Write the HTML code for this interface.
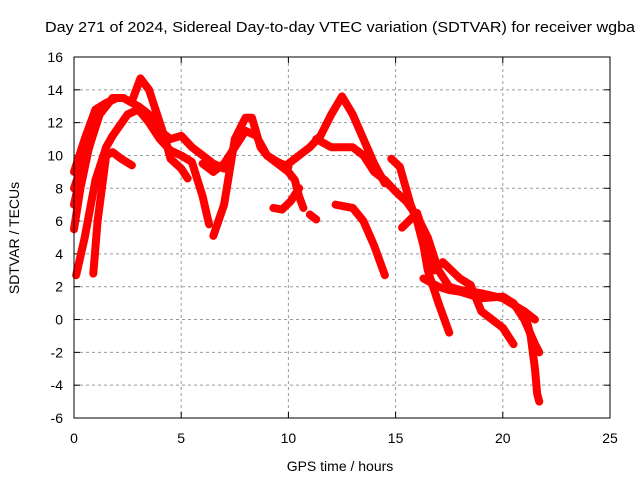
<!DOCTYPE html>
<html><head><meta charset="utf-8"><style>
body{margin:0;background:#fff}
svg{display:block;font-family:"Liberation Sans",sans-serif}
</style></head><body>
<svg id="chart" width="640" height="480">
<rect width="640" height="480" fill="#fff"/>
<text x="45" y="32" font-size="15" textLength="590" lengthAdjust="spacingAndGlyphs">Day 271 of 2024, Sidereal Day-to-day VTEC variation (SDTVAR) for receiver wgba</text>
<text x="340" y="471" font-size="14" text-anchor="middle">GPS time / hours</text>
<text x="19" y="238" font-size="14" text-anchor="middle" transform="rotate(-90 19 238)">SDTVAR / TECUs</text>
<g id="grid"></g><g id="ticks"></g><g id="series"></g>
<rect x="74" y="57" width="536" height="361" fill="none" stroke="#000" stroke-width="1"/>
</svg>
<script>
const xTicks=[0,5,10,15,20,25];
const yTicks=[-6,-4,-2,0,2,4,6,8,10,12,14,16];
const arcA=[[0,5.5],[0.3,8],[0.7,10.5],[1.2,12.5],[1.8,13.5],[2.3,13.5],[3,13],[3.5,12.5],[4,11.5],[4.5,11],[5,11.2],[5.5,10.5],[6,10],[6.5,9.5],[7,9.2]];
const arcB=[[0.1,2.7],[0.5,5],[1,8.5],[1.5,10.5],[1.8,11.2],[2.5,12.5],[3,12.8],[3.5,12],[4,11],[4.5,10.3],[5,10],[5.5,9.6],[6,7.5],[6.3,5.8]];
const arcC=[[0.9,2.8],[1.1,6],[1.3,8],[1.5,10],[1.8,10.2],[2.2,9.8],[2.7,9.4]];
const arcD=[[2.7,13.3],[3.1,14.7],[3.5,14],[4,12],[4.3,10.8],[4.5,9.8],[5,9.2],[5.3,8.6]];
const arcE=[[0,9],[0.5,11],[1,12.8],[1.5,13.2],[2,13.5]];
const arcE2=[[0,8],[0.4,9.5],[0.8,11.5],[1.2,12.6]];
const arcE3=[[0,7],[0.3,8.8],[0.6,10],[1,11.8]];
const arcF=[[6.5,5.1],[7,7],[7.5,11],[8,12.3],[8.3,12.3],[8.7,10.5],[9,10],[9.5,9.6],[10,9.3]];
const arcG=[[6,9.5],[6.5,9],[7,9.5],[7.5,10.5],[8,11.5],[8.5,11.2],[9,10],[9.5,9.5],[10,9],[10.3,8.5],[10.5,7.5],[10.7,6.8]];
const arcH=[[9.3,6.8],[9.7,6.7],[10.1,7.2],[10.5,8]];
const arcI=[[11,6.4],[11.3,6.1]];
const arcJ=[[10,9.5],[11,10.5],[11.5,11.2],[12,12.5],[12.5,13.6],[13,12.5],[13.5,11],[14,9.5],[14.5,8.3]];
const arcK=[[11.3,11],[12,10.5],[13,10.5],[13.5,10],[14,9],[14.5,8.5],[15,7.8],[15.5,7.2],[16,6.3],[16.5,5],[17,3],[17.5,2],[18,1.8],[19,1.6],[20,1.3],[21,0.5],[21.5,0]];
const arcL=[[12.2,7],[13,6.8],[13.5,6],[14,4.5],[14.5,2.7]];
const arcM=[[14.8,9.8],[15.2,9.3],[15.7,7],[16,6],[16.3,4.5],[16.5,3],[17,1],[17.5,-0.8]];
const arcN=[[15.3,5.6],[16,6.5],[16.5,4.5],[16.8,3],[17.2,3.5],[18,2.5],[18.5,2.1]];
const arcO=[[16.3,2.5],[17,2],[17.5,1.8],[18,1.7],[19,1.3],[20,1.4],[20.5,1],[21,0],[21.5,-1.5],[21.7,-2]];
const arcP=[[18.5,2.1],[19,0.5],[20,-0.5],[20.5,-1.5]];
const arcQ=[[21,0.5],[21.3,-1],[21.5,-3],[21.6,-4.5],[21.7,-5]];
const tracks=[arcA,arcB,arcC,arcD,arcE,arcE2,arcE3,arcF,arcG,arcH,arcI,arcJ,arcK,arcL,arcM,arcN,arcO,arcP,arcQ];
const NS='http://www.w3.org/2000/svg';
const X=v=>74+v*(536/25), Y=v=>418-(v+6)*(361/22);
const g=document.getElementById('grid'),t=document.getElementById('ticks'),s=document.getElementById('series');
function mk(tag,p,attrs){const e=document.createElementNS(NS,tag);for(const k in attrs)e.setAttribute(k,attrs[k]);p.appendChild(e);return e;}
xTicks.forEach(v=>{
 if(v>0&&v<25){const l=mk('line',g,{x1:X(v),x2:X(v),y1:57,y2:418,stroke:'#999','stroke-dasharray':'3,3'});
 
 }
 mk('line',t,{x1:X(v),x2:X(v),y1:418,y2:412,stroke:'#000'});
 mk('line',t,{x1:X(v),x2:X(v),y1:57,y2:63,stroke:'#000'});
 const tx=mk('text',t,{x:X(v),y:443,'font-size':14,'text-anchor':'middle'});tx.textContent=v;
 
 
});
yTicks.forEach(v=>{
 if(v>-6&&v<16){const l=mk('line',g,{x1:74,x2:610,y1:Y(v),y2:Y(v),stroke:'#999','stroke-dasharray':'3,3'});
 
 }
 mk('line',t,{x1:74,x2:80,y1:Y(v),y2:Y(v),stroke:'#000'});
 mk('line',t,{x1:610,x2:604,y1:Y(v),y2:Y(v),stroke:'#000'});
 const tx=mk('text',t,{x:63,y:Y(v)+5,'font-size':14,'text-anchor':'end'});tx.textContent=v;
 
 
});
tracks.forEach(tr=>{
 const p=mk('polyline',s,{points:tr.map(d=>X(d[0])+','+Y(d[1])).join(' '),fill:'none',stroke:'#f00','stroke-width':8,'stroke-linejoin':'round','stroke-linecap':'round'});
 
 
});
</script>
</body></html>
